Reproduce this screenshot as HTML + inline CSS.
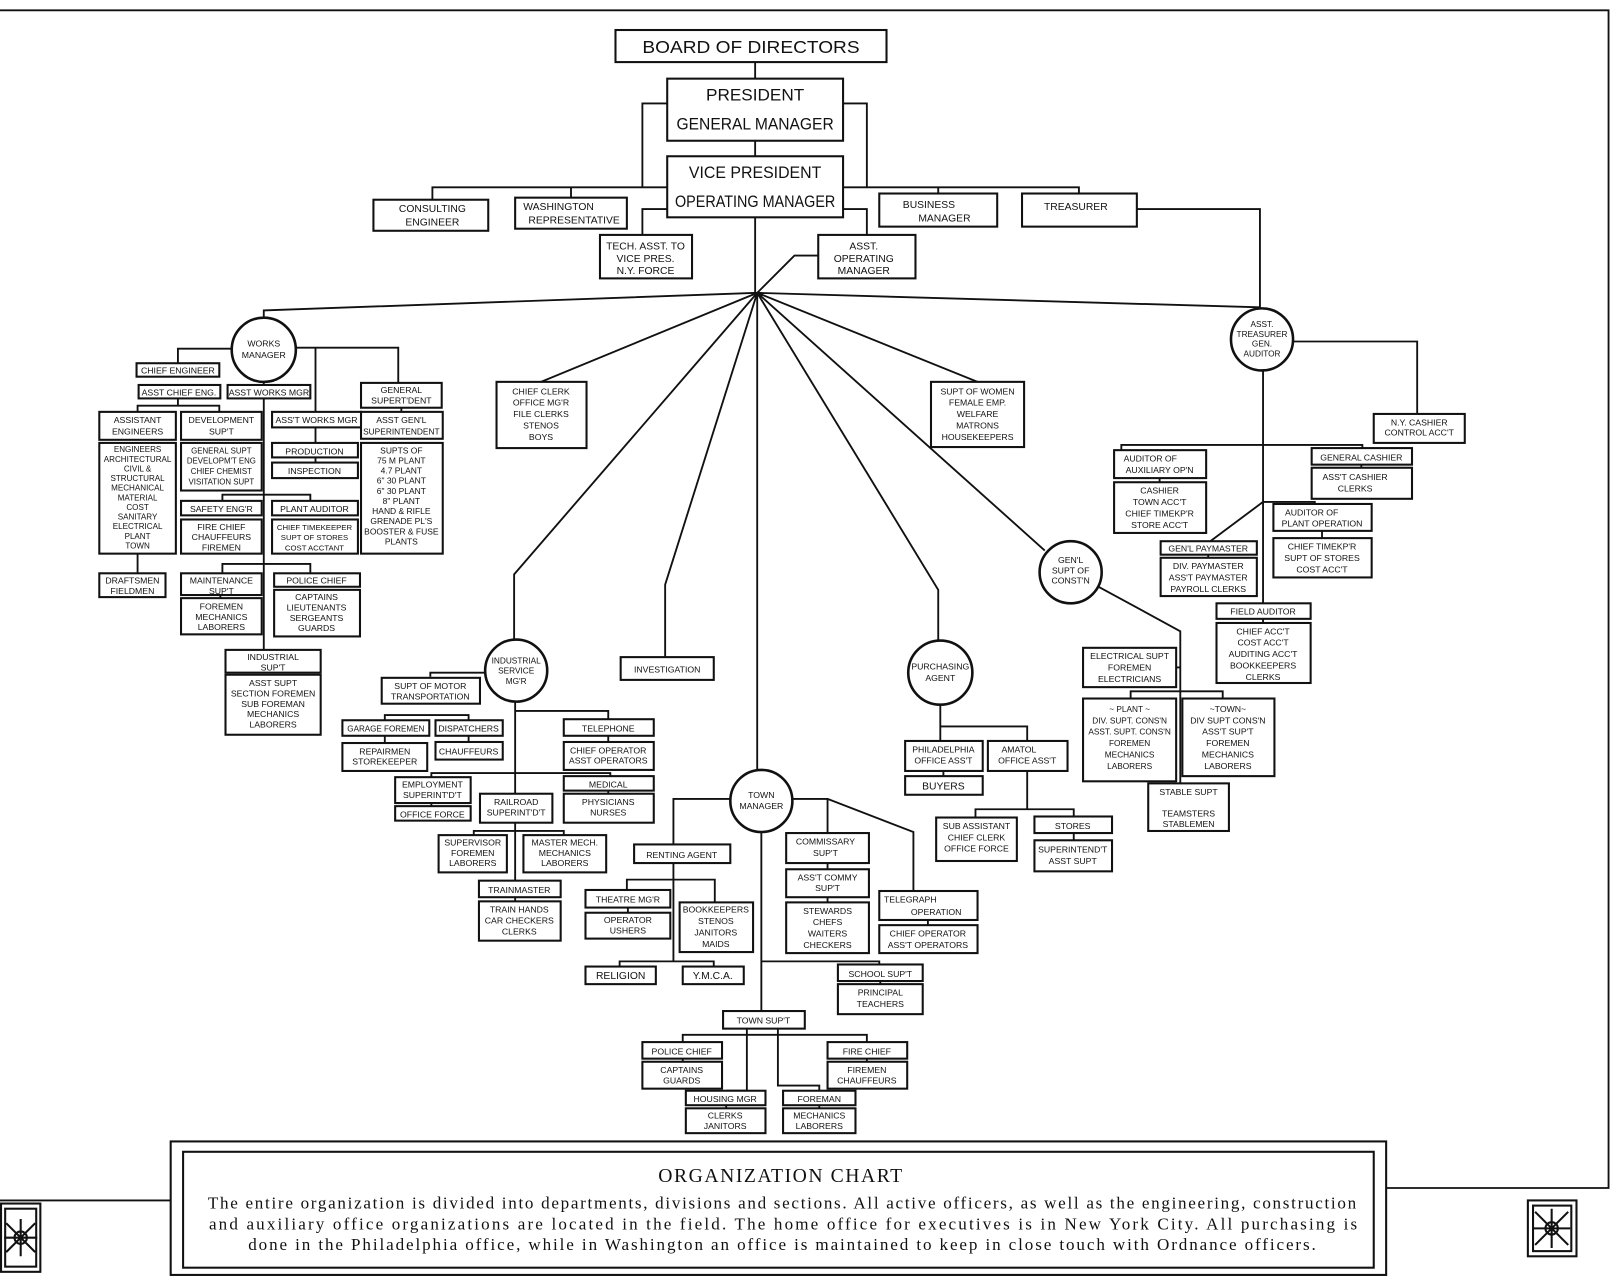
<!DOCTYPE html>
<html><head><meta charset="utf-8"><style>
html,body{margin:0;padding:0;background:#fff;}
svg{display:block;}
.b{fill:#fff;stroke:#111;stroke-width:2;}
.c{fill:#fff;stroke:#111;stroke-width:2.5;}
.l{fill:none;stroke:#111;stroke-width:1.8;}
text{font-family:"Liberation Sans Narrow","Liberation Sans",sans-serif;fill:#111;text-anchor:middle;font-size:8.4px;}
.m{font-size:10px;}
.big{font-size:16px;}
.cap{font-family:"Liberation Serif",serif;}
</style></head><body>
<svg width="1622" height="1277" viewBox="0 0 1568 1234" preserveAspectRatio="none" xmlns="http://www.w3.org/2000/svg">
<rect width="1568" height="1234" fill="#fff"/>
<path class="l" d="M0 10 H1555 V1148 H1340 M0 1160 H165" stroke-width="2"/>
<rect x="165" y="1103" width="1175" height="129" fill="none" stroke="#111" stroke-width="2"/>
<rect x="177" y="1113" width="1151" height="112" fill="none" stroke="#111" stroke-width="2"/>
<g fill="none" stroke="#111" stroke-width="2">
<rect x="1" y="1163" width="38" height="66"/><rect x="5" y="1168" width="30" height="56"/>
<circle cx="20" cy="1196" r="6"/><path d="M20 1178 L20 1214 M6 1182 L34 1210 M34 1182 L6 1210 M4 1196 H36"/>
<rect x="1477" y="1160" width="47" height="54"/><rect x="1482" y="1165" width="37" height="44"/>
<circle cx="1500" cy="1187" r="6"/><path d="M1500 1168 V1206 M1484 1171 L1516 1203 M1516 1171 L1484 1203 M1482 1187 H1518"/>
</g>
<text class="cap" x="755" y="1142" style="font-size:19px;letter-spacing:1.5px">ORGANIZATION CHART</text>
<text class="cap" x="201" y="1168" style="font-size:16.5px;text-anchor:start" textLength="1110" lengthAdjust="spacing">The entire organization is divided into departments, divisions and sections.  All active officers, as well as the engineering, construction</text>
<text class="cap" x="202" y="1188" style="font-size:16.5px;text-anchor:start" textLength="1110" lengthAdjust="spacing">and auxiliary office organizations are located in the field.  The home office for executives is in New York City.  All purchasing is</text>
<text class="cap" x="240" y="1208" style="font-size:16.5px;text-anchor:start" textLength="1032" lengthAdjust="spacing">done in the Philadelphia office, while in Washington an office is maintained to keep in close touch with Ordnance officers.</text>

<path class="l" d="M730 60V76 M730 136V151 M730 210V283 M645 100H621V181 M815 100H838V181 M418 193V181H645 M815 181H1043V187 M552 181V191 M907 181V187 M645 202H621V227 M815 202H838V227 M791 247H768L732 283 M1099 202H1218V299"/>
<path class="l" d="M732 283L255 300V308 M732 283L1218 297 M732 283L523 369 M732 283L945 369 M732 283L497 555V618 M732 283L643 565V635 M732 283V745 M732 283L907 570V619 M732 283L1010 532"/>

<rect class="b" x="595" y="29" width="262" height="31"/><text x="726" y="51" style="font-size:17px" textLength="210" lengthAdjust="spacingAndGlyphs">BOARD OF DIRECTORS</text>
<rect class="b" x="645" y="76" width="170" height="60"/><text class="big" x="730" y="97" textLength="95" lengthAdjust="spacingAndGlyphs">PRESIDENT</text><text class="big" x="730" y="125" textLength="152" lengthAdjust="spacingAndGlyphs">GENERAL MANAGER</text>
<rect class="b" x="645" y="151" width="170" height="59"/><text class="big" x="730" y="172" textLength="128" lengthAdjust="spacingAndGlyphs">VICE PRESIDENT</text><text class="big" x="730" y="200" textLength="155" lengthAdjust="spacingAndGlyphs">OPERATING MANAGER</text>
<rect class="b" x="361" y="193" width="111" height="30"/><text class="m" x="418" y="205">CONSULTING</text><text class="m" x="418" y="218">ENGINEER</text>
<rect class="b" x="498" y="191" width="108" height="30"/><text class="m" x="540" y="203">WASHINGTON</text><text class="m" x="555" y="216">REPRESENTATIVE</text>
<rect class="b" x="850" y="187" width="114" height="32"/><text class="m" x="898" y="201">BUSINESS</text><text class="m" x="913" y="214">MANAGER</text>
<rect class="b" x="988" y="187" width="111" height="32"/><text class="m" x="1040" y="203">TREASURER</text>
<rect class="b" x="580" y="227" width="89" height="42"/><text class="m" x="624" y="241">TECH. ASST. TO</text><text class="m" x="624" y="253">VICE PRES.</text><text class="m" x="624" y="265">N.Y. FORCE</text>
<rect class="b" x="791" y="227" width="94" height="42"/><text class="m" x="835" y="241">ASST.</text><text class="m" x="835" y="253">OPERATING</text><text class="m" x="835" y="265">MANAGER</text>

<path class="l" d="M224 337H172V351 M286 336H385V370 M305 336V398 M255 369V628 M172 385V392 M133 398V392H212V398 M305 413V428 M305 442V447 M388 394V398 M215 484V478H300V484 M215 554V545H300V554 M133 535V554 M213 575V578"/>
<circle class="c" cx="255" cy="338" r="31"/><text x="255" y="335">WORKS</text><text x="255" y="346">MANAGER</text>
<rect class="b" x="132" y="351" width="80" height="13"/><text x="172" y="361">CHIEF ENGINEER</text>
<rect class="b" x="134" y="372" width="79" height="13"/><text x="173" y="382">ASST CHIEF ENG.</text>
<rect class="b" x="220" y="372" width="80" height="13"/><text x="260" y="382">ASST WORKS MGR</text>
<rect class="b" x="349" y="370" width="78" height="24"/><text x="388" y="380">GENERAL</text><text x="388" y="390">SUPERT'DENT</text>
<rect class="b" x="96" y="398" width="74" height="27"/><text x="133" y="409">ASSISTANT</text><text x="133" y="420">ENGINEERS</text>
<rect class="b" x="175" y="398" width="78" height="27"/><text x="214" y="409">DEVELOPMENT</text><text x="214" y="420">SUP'T</text>
<rect class="b" x="263" y="398" width="86" height="15"/><text x="306" y="409">ASS'T WORKS MGR</text>
<rect class="b" x="349" y="398" width="79" height="26"/><text x="388" y="409">ASST GEN'L</text><text x="388" y="420" textLength="74" lengthAdjust="spacingAndGlyphs">SUPERINTENDENT</text>
<rect class="b" x="96" y="428" width="74" height="107"/>
<text x="133" y="437" style="font-size:7.8px"><tspan x="133">ENGINEERS</tspan><tspan x="133" dy="9.3">ARCHITECTURAL</tspan><tspan x="133" dy="9.3">CIVIL &amp;</tspan><tspan x="133" dy="9.3">STRUCTURAL</tspan><tspan x="133" dy="9.3">MECHANICAL</tspan><tspan x="133" dy="9.3">MATERIAL</tspan><tspan x="133" dy="9.3">COST</tspan><tspan x="133" dy="9.3">SANITARY</tspan><tspan x="133" dy="9.3">ELECTRICAL</tspan><tspan x="133" dy="9.3">PLANT</tspan><tspan x="133" dy="9.3">TOWN</tspan></text>
<rect class="b" x="175" y="428" width="78" height="46"/>
<text x="214" y="438" style="font-size:7.6px"><tspan x="214">GENERAL SUPT</tspan><tspan x="214" dy="10">DEVELOPM'T ENG</tspan><tspan x="214" dy="10">CHIEF CHEMIST</tspan><tspan x="214" dy="10">VISITATION SUPT</tspan></text>
<rect class="b" x="263" y="428" width="83" height="14"/><text x="304" y="439">PRODUCTION</text>
<rect class="b" x="263" y="447" width="83" height="15"/><text x="304" y="458">INSPECTION</text>
<rect class="b" x="349" y="428" width="79" height="107"/>
<text x="388" y="438" style="font-size:8.2px"><tspan x="388">SUPTS OF</tspan><tspan x="388" dy="9.8">75 M PLANT</tspan><tspan x="388" dy="9.8">4.7  PLANT</tspan><tspan x="388" dy="9.8">6" 30 PLANT</tspan><tspan x="388" dy="9.8">6" 30 PLANT</tspan><tspan x="388" dy="9.8">8"  PLANT</tspan><tspan x="388" dy="9.8">HAND &amp; RIFLE</tspan><tspan x="388" dy="9.8">GRENADE PL'S</tspan><tspan x="388" dy="9.8">BOOSTER &amp; FUSE</tspan><tspan x="388" dy="9.8">PLANTS</tspan></text>
<rect class="b" x="175" y="484" width="78" height="14"/><text x="214" y="495">SAFETY ENG'R</text>
<rect class="b" x="263" y="484" width="83" height="14"/><text x="304" y="495">PLANT AUDITOR</text>
<rect class="b" x="175" y="502" width="78" height="33"/><text x="214" y="512"><tspan x="214">FIRE CHIEF</tspan><tspan x="214" dy="10">CHAUFFEURS</tspan><tspan x="214" dy="10">FIREMEN</tspan></text>
<rect class="b" x="263" y="502" width="83" height="33"/><text x="304" y="512" style="font-size:7.5px"><tspan x="304">CHIEF TIMEKEEPER</tspan><tspan x="304" dy="10">SUPT OF STORES</tspan><tspan x="304" dy="10">COST ACCTANT</tspan></text>
<rect class="b" x="96" y="554" width="64" height="23"/><text x="128" y="564"><tspan x="128">DRAFTSMEN</tspan><tspan x="128" dy="10">FIELDMEN</tspan></text>
<rect class="b" x="175" y="554" width="78" height="21"/><text x="214" y="564"><tspan x="214">MAINTENANCE</tspan><tspan x="214" dy="10">SUP'T</tspan></text>
<rect class="b" x="175" y="578" width="78" height="35"/><text x="214" y="589"><tspan x="214">FOREMEN</tspan><tspan x="214" dy="10">MECHANICS</tspan><tspan x="214" dy="10">LABORERS</tspan></text>
<rect class="b" x="265" y="554" width="83" height="13"/><text x="306" y="564">POLICE CHIEF</text>
<rect class="b" x="265" y="570" width="83" height="45"/><text x="306" y="580"><tspan x="306">CAPTAINS</tspan><tspan x="306" dy="10">LIEUTENANTS</tspan><tspan x="306" dy="10">SERGEANTS</tspan><tspan x="306" dy="10">GUARDS</tspan></text>
<rect class="b" x="218" y="628" width="92" height="22"/><text x="264" y="638"><tspan x="264">INDUSTRIAL</tspan><tspan x="264" dy="10">SUP'T</tspan></text>
<rect class="b" x="218" y="652" width="92" height="58"/><text x="264" y="663"><tspan x="264">ASST SUPT</tspan><tspan x="264" dy="10">SECTION FOREMEN</tspan><tspan x="264" dy="10">SUB FOREMAN</tspan><tspan x="264" dy="10">MECHANICS</tspan><tspan x="264" dy="10">LABORERS</tspan></text>

<rect class="b" x="480" y="369" width="87" height="64"/><text x="523" y="381"><tspan x="523">CHIEF CLERK</tspan><tspan x="523" dy="11">OFFICE MG'R</tspan><tspan x="523" dy="11">FILE CLERKS</tspan><tspan x="523" dy="11">STENOS</tspan><tspan x="523" dy="11">BOYS</tspan></text>
<rect class="b" x="900" y="369" width="90" height="63"/><text x="945" y="381"><tspan x="945">SUPT OF WOMEN</tspan><tspan x="945" dy="11">FEMALE EMP.</tspan><tspan x="945" dy="11">WELFARE</tspan><tspan x="945" dy="11">MATRONS</tspan><tspan x="945" dy="11">HOUSEKEEPERS</tspan></text>

<path class="l" d="M470 650H416V654 M498 678V767 M498 795V851 M372 696V691H453V696 M498 687H588V695 M417 751V747H590V750 M372 711V718 M453 711V717 M588 711V717 M588 764V767 M417 776V779 M458 807V803H545V807 M498 867V871"/>
<circle class="c" cx="499" cy="648" r="30"/><text x="499" y="641" style="font-size:8px"><tspan x="499">INDUSTRIAL</tspan><tspan x="499" dy="10">SERVICE</tspan><tspan x="499" dy="10">MG'R</tspan></text>
<rect class="b" x="369" y="655" width="95" height="25"/><text x="416" y="666"><tspan x="416">SUPT OF MOTOR</tspan><tspan x="416" dy="10">TRANSPORTATION</tspan></text>
<rect class="b" x="331" y="696" width="84" height="15"/><text x="373" y="707" style="font-size:7.8px">GARAGE FOREMEN</text>
<rect class="b" x="421" y="696" width="65" height="15"/><text x="453" y="707">DISPATCHERS</text>
<rect class="b" x="331" y="718" width="82" height="27"/><text x="372" y="729"><tspan x="372">REPAIRMEN</tspan><tspan x="372" dy="10">STOREKEEPER</tspan></text>
<rect class="b" x="421" y="717" width="65" height="17"/><text x="453" y="729">CHAUFFEURS</text>
<rect class="b" x="545" y="695" width="87" height="16"/><text x="588" y="707">TELEPHONE</text>
<rect class="b" x="545" y="717" width="87" height="27"/><text x="588" y="728"><tspan x="588">CHIEF OPERATOR</tspan><tspan x="588" dy="10">ASST OPERATORS</tspan></text>
<rect class="b" x="382" y="751" width="73" height="25"/><text x="418" y="761"><tspan x="418">EMPLOYMENT</tspan><tspan x="418" dy="10">SUPERINT'D'T</tspan></text>
<rect class="b" x="382" y="779" width="73" height="14"/><text x="418" y="790">OFFICE FORCE</text>
<rect class="b" x="464" y="767" width="70" height="28"/><text x="499" y="778"><tspan x="499">RAILROAD</tspan><tspan x="499" dy="10">SUPERINT'D'T</tspan></text>
<rect class="b" x="545" y="750" width="87" height="14"/><text x="588" y="761">MEDICAL</text>
<rect class="b" x="545" y="767" width="87" height="28"/><text x="588" y="778"><tspan x="588">PHYSICIANS</tspan><tspan x="588" dy="10">NURSES</tspan></text>
<rect class="b" x="424" y="807" width="66" height="36"/><text x="457" y="817"><tspan x="457">SUPERVISOR</tspan><tspan x="457" dy="10">FOREMEN</tspan><tspan x="457" dy="10">LABORERS</tspan></text>
<rect class="b" x="506" y="807" width="80" height="36"/><text x="546" y="817"><tspan x="546">MASTER MECH.</tspan><tspan x="546" dy="10">MECHANICS</tspan><tspan x="546" dy="10">LABORERS</tspan></text>
<rect class="b" x="463" y="851" width="79" height="16"/><text x="502" y="863">TRAINMASTER</text>
<rect class="b" x="463" y="871" width="79" height="38"/><text x="502" y="882"><tspan x="502">TRAIN HANDS</tspan><tspan x="502" dy="10.5">CAR CHECKERS</tspan><tspan x="502" dy="10.5">CLERKS</tspan></text>

<rect class="b" x="600" y="635" width="90" height="22"/><text x="645" y="650">INVESTIGATION</text>

<path class="l" d="M706 772H651V816 M766 772H800V805 M800 772L883 804V861 M651 834V929 M606 860V850H691V872 M800 834V840 M800 867V872 M897 889V894 M736 805V977 M599 934V929H690V934 M736 929H850V932 M851 948V951 M660 1007V1000H838V1007 M722 994V1054H702V1054 M752 994V1049H792V1054 M660 1023V1026 M838 1023V1026 M702 1068V1071 M792 1068V1071 M607 877V882"/>
<circle class="c" cx="736" cy="774" r="30"/><text x="736" y="771"><tspan x="736">TOWN</tspan><tspan x="736" dy="11">MANAGER</tspan></text>
<rect class="b" x="613" y="816" width="93" height="18"/><text x="659" y="829">RENTING AGENT</text>
<rect class="b" x="760" y="805" width="80" height="29"/><text x="798" y="816"><tspan x="798">COMMISSARY</tspan><tspan x="798" dy="11">SUP'T</tspan></text>
<rect class="b" x="760" y="840" width="80" height="27"/><text x="800" y="851"><tspan x="800">ASS'T COMMY</tspan><tspan x="800" dy="10">SUP'T</tspan></text>
<rect class="b" x="760" y="872" width="80" height="49"/><text x="800" y="883"><tspan x="800">STEWARDS</tspan><tspan x="800" dy="11">CHEFS</tspan><tspan x="800" dy="11">WAITERS</tspan><tspan x="800" dy="11">CHECKERS</tspan></text>
<rect class="b" x="850" y="861" width="95" height="28"/><text x="880" y="872">TELEGRAPH</text><text x="905" y="884">OPERATION</text>
<rect class="b" x="850" y="894" width="95" height="27"/><text x="897" y="905"><tspan x="897">CHIEF OPERATOR</tspan><tspan x="897" dy="11">ASS'T OPERATORS</tspan></text>
<rect class="b" x="566" y="860" width="82" height="17"/><text x="607" y="872">THEATRE MG'R</text>
<rect class="b" x="566" y="882" width="82" height="25"/><text x="607" y="892"><tspan x="607">OPERATOR</tspan><tspan x="607" dy="10">USHERS</tspan></text>
<rect class="b" x="657" y="872" width="71" height="48"/><text x="692" y="882"><tspan x="692">BOOKKEEPERS</tspan><tspan x="692" dy="11">STENOS</tspan><tspan x="692" dy="11">JANITORS</tspan><tspan x="692" dy="11">MAIDS</tspan></text>
<rect class="b" x="566" y="934" width="68" height="17"/><text x="600" y="946" class="m">RELIGION</text>
<rect class="b" x="660" y="934" width="59" height="17"/><text x="689" y="946" class="m">Y.M.C.A.</text>
<rect class="b" x="810" y="932" width="82" height="16"/><text x="851" y="944">SCHOOL SUP'T</text>
<rect class="b" x="810" y="951" width="82" height="29"/><text x="851" y="962"><tspan x="851">PRINCIPAL</tspan><tspan x="851" dy="11">TEACHERS</tspan></text>
<rect class="b" x="699" y="977" width="79" height="17"/><text x="738" y="989">TOWN SUP'T</text>
<rect class="b" x="621" y="1007" width="77" height="16"/><text x="659" y="1019">POLICE CHIEF</text>
<rect class="b" x="621" y="1026" width="77" height="26"/><text x="659" y="1037"><tspan x="659">CAPTAINS</tspan><tspan x="659" dy="10">GUARDS</tspan></text>
<rect class="b" x="800" y="1007" width="77" height="16"/><text x="838" y="1019">FIRE CHIEF</text>
<rect class="b" x="800" y="1026" width="77" height="26"/><text x="838" y="1037"><tspan x="838">FIREMEN</tspan><tspan x="838" dy="10">CHAUFFEURS</tspan></text>
<rect class="b" x="663" y="1054" width="77" height="14"/><text x="701" y="1065">HOUSING MGR</text>
<rect class="b" x="663" y="1071" width="77" height="24"/><text x="701" y="1081"><tspan x="701">CLERKS</tspan><tspan x="701" dy="10">JANITORS</tspan></text>
<rect class="b" x="757" y="1054" width="70" height="14"/><text x="792" y="1065">FOREMAN</text>
<rect class="b" x="757" y="1071" width="70" height="24"/><text x="792" y="1081"><tspan x="792">MECHANICS</tspan><tspan x="792" dy="10">LABORERS</tspan></text>

<path class="l" d="M909 681V716 M909 702H993V716 M993 745V782 M943 790V782H1038V789 M912 745V750 M1038 805V812"/>
<circle class="c" cx="909" cy="650" r="31"/><text x="909" y="647"><tspan x="909">PURCHASING</tspan><tspan x="909" dy="11">AGENT</tspan></text>
<rect class="b" x="875" y="716" width="75" height="29"/><text x="912" y="727"><tspan x="912">PHILADELPHIA</tspan><tspan x="912" dy="11">OFFICE ASS'T</tspan></text>
<rect class="b" x="955" y="716" width="77" height="29"/><text x="993" y="727"><tspan x="985">AMATOL</tspan><tspan x="993" dy="11">OFFICE ASS'T</tspan></text>
<rect class="b" x="875" y="750" width="75" height="18"/><text x="912" y="763" class="m">BUYERS</text>
<rect class="b" x="905" y="790" width="78" height="42"/><text x="944" y="801"><tspan x="944">SUB ASSISTANT</tspan><tspan x="944" dy="11">CHIEF CLERK</tspan><tspan x="944" dy="11">OFFICE FORCE</tspan></text>
<rect class="b" x="1000" y="789" width="75" height="16"/><text x="1037" y="801">STORES</text>
<rect class="b" x="1000" y="812" width="75" height="30"/><text x="1037" y="824"><tspan x="1037">SUPERINTEND'T</tspan><tspan x="1037" dy="11">ASST SUPT</tspan></text>

<path class="l" d="M1062 567L1141 610V757 M1137 645H1141 M1093 675V668H1182V675"/>
<circle class="c" cx="1035" cy="553" r="30"/><text x="1035" y="544"><tspan x="1035">GEN'L</tspan><tspan x="1035" dy="10">SUPT OF</tspan><tspan x="1035" dy="10">CONST'N</tspan></text>
<rect class="b" x="1047" y="626" width="90" height="38"/><text x="1092" y="637"><tspan x="1092">ELECTRICAL SUPT</tspan><tspan x="1092" dy="11">FOREMEN</tspan><tspan x="1092" dy="11">ELECTRICIANS</tspan></text>
<rect class="b" x="1047" y="675" width="90" height="80"/><text x="1092" y="688" style="font-size:8px"><tspan x="1092">~ PLANT ~</tspan><tspan x="1092" dy="11">DIV. SUPT. CONS'N</tspan><tspan x="1092" dy="11">ASST. SUPT. CONS'N</tspan><tspan x="1092" dy="11">FOREMEN</tspan><tspan x="1092" dy="11">MECHANICS</tspan><tspan x="1092" dy="11">LABORERS</tspan></text>
<rect class="b" x="1143" y="675" width="89" height="75"/><text x="1187" y="688"><tspan x="1187">~TOWN~</tspan><tspan x="1187" dy="11">DIV SUPT CONS'N</tspan><tspan x="1187" dy="11">ASS'T SUP'T</tspan><tspan x="1187" dy="11">FOREMEN</tspan><tspan x="1187" dy="11">MECHANICS</tspan><tspan x="1187" dy="11">LABORERS</tspan></text>
<rect class="b" x="1110" y="757" width="78" height="46"/><text x="1149" y="768">STABLE SUPT</text><text x="1149" y="789"><tspan x="1149">TEAMSTERS</tspan><tspan x="1149" dy="10">STABLEMEN</tspan></text>

<path class="l" d="M1250 330H1370V400 M1221 358V583 M1084 435V430H1317V433 M1121 462V466 M1316 449V452 M1221 485L1170 523 M1221 485H1271V487 M1278 513V520 M1168 536V539 M1221 598V602"/>
<circle class="c" cx="1220" cy="328" r="30"/><text x="1220" y="316" style="font-size:8px"><tspan x="1220">ASST.</tspan><tspan x="1220" dy="9.5">TREASURER</tspan><tspan x="1220" dy="9.5">GEN.</tspan><tspan x="1220" dy="9.5">AUDITOR</tspan></text>
<rect class="b" x="1328" y="400" width="88" height="28"/><text x="1372" y="411"><tspan x="1372">N.Y. CASHIER</tspan><tspan x="1372" dy="10">CONTROL ACC'T</tspan></text>
<rect class="b" x="1077" y="435" width="89" height="27"/><text x="1121" y="446"><tspan x="1112">AUDITOR OF</tspan><tspan x="1121" dy="11">AUXILIARY OP'N</tspan></text>
<rect class="b" x="1077" y="466" width="89" height="49"/><text x="1121" y="477"><tspan x="1121">CASHIER</tspan><tspan x="1121" dy="11">TOWN ACC'T</tspan><tspan x="1121" dy="11">CHIEF TIMEKP'R</tspan><tspan x="1121" dy="11">STORE ACC'T</tspan></text>
<rect class="b" x="1268" y="433" width="97" height="16"/><text x="1316" y="445">GENERAL CASHIER</text>
<rect class="b" x="1268" y="452" width="97" height="30"/><text x="1310" y="464"><tspan x="1310">ASS'T CASHIER</tspan><tspan x="1310" dy="11">CLERKS</tspan></text>
<rect class="b" x="1231" y="487" width="95" height="26"/><text x="1278" y="498"><tspan x="1268">AUDITOR OF</tspan><tspan x="1278" dy="11">PLANT OPERATION</tspan></text>
<rect class="b" x="1231" y="520" width="95" height="38"/><text x="1278" y="531"><tspan x="1278">CHIEF TIMEKP'R</tspan><tspan x="1278" dy="11">SUPT OF STORES</tspan><tspan x="1278" dy="11">COST ACC'T</tspan></text>
<rect class="b" x="1122" y="523" width="93" height="13"/><text x="1168" y="533">GEN'L PAYMASTER</text>
<rect class="b" x="1122" y="539" width="93" height="37"/><text x="1168" y="550"><tspan x="1168">DIV. PAYMASTER</tspan><tspan x="1168" dy="11">ASS'T PAYMASTER</tspan><tspan x="1168" dy="11">PAYROLL CLERKS</tspan></text>
<rect class="b" x="1176" y="583" width="91" height="15"/><text x="1221" y="594">FIELD AUDITOR</text>
<rect class="b" x="1176" y="602" width="91" height="58"/><text x="1221" y="613"><tspan x="1221">CHIEF ACC'T</tspan><tspan x="1221" dy="11">COST ACC'T</tspan><tspan x="1221" dy="11">AUDITING ACC'T</tspan><tspan x="1221" dy="11">BOOKKEEPERS</tspan><tspan x="1221" dy="11">CLERKS</tspan></text>
</svg>
</body></html>
